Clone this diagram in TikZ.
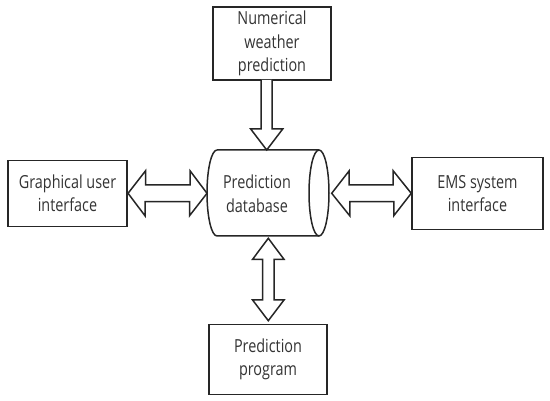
\documentclass[tikz,border=0pt]{standalone}
\usepackage{fontspec}
\setmainfont{Open Sans}[FakeStretch=0.8]
\definecolor{ink}{HTML}{262626}
\definecolor{txt}{HTML}{333333}
\begin{document}
\begin{tikzpicture}[x=1pt,y=-1pt,
  box/.style={draw=ink,line width=1.5pt,rectangle,inner sep=0pt,align=center,
    font=\fontsize{18}{23.5}\selectfont,text=txt},
  blk/.style={draw=ink,line width=1.5pt,line join=miter,fill=white},
  lbl/.style={align=center,inner sep=0pt,font=\fontsize{18}{23.5}\selectfont,text=txt}]
\useasboundingbox (0,0) rectangle (550,401);
% boxes
\node[box,minimum width=118pt,minimum height=73pt] (nwp) at (272,43.5) {Numerical\\weather\\prediction};
\node[box,minimum width=119pt,minimum height=66pt] (gui) at (67.5,193.5) {Graphical user\\interface};
\node[box,minimum width=131pt,minimum height=72pt] (ems) at (477.5,193.5) {EMS system\\interface};
\node[box,minimum width=118pt,minimum height=70pt] (prog) at (268,359.5) {Prediction\\program};
% database cylinder
\draw[ink,line width=1.5pt] (217,150) -- (319,150) (217,236) -- (319,236)
  (217,150) arc[start angle=90,end angle=270,x radius=10,y radius=-43];
\draw[ink,line width=1.5pt] (319,193) ellipse[x radius=10,y radius=43];
\coordinate (dbtop) at (266.7,150);
\coordinate (dbbot) at (268.3,236);
\coordinate (dbleft) at (207,193.3);
\coordinate (dbright) at (329,193.3);
\node[lbl] (db) at (257,194) {Prediction\\database};
% top arrow
\draw[blk] (dbtop) ++(-5.5,-70) -- ++(0,49) -- ++(-10.5,0) -- (dbtop) -- ++(16,-21) -- ++(-10.5,0) -- ++(0,-49);
% left double arrow
\draw[blk] (gui.east |- dbleft) ++(0.3,0) -- ++(17.5,-22.5) -- ++(0,14.2) -- ++(44.5,0) -- ++(0,-14.2)
  -- (dbleft) -- ++(-17.5,22.5) -- ++(0,-14.2) -- ++(-44.5,0) -- ++(0,14.2) -- cycle;
% right double arrow
\draw[blk] (dbright) ++(2.7,0) -- ++(17.5,-22.5) -- ++(0,14.2) -- ++(44,0) -- ++(0,-14.2)
  -- (ems.west |- dbright) -- ++(-17.5,22.5) -- ++(0,-14.2) -- ++(-44,0) -- ++(0,14.2) -- cycle;
% bottom double arrow
\draw[blk] (dbbot) ++(0,2.3) -- ++(15.7,21) -- ++(-9.9,0) -- ++(0,40.7) -- ++(9.9,0)
  -- ++(-15.7,20.7) -- ++(-15.7,-20.7) -- ++(9.9,0) -- ++(0,-40.7) -- ++(-9.9,0) -- cycle;
\end{tikzpicture}
\end{document}
